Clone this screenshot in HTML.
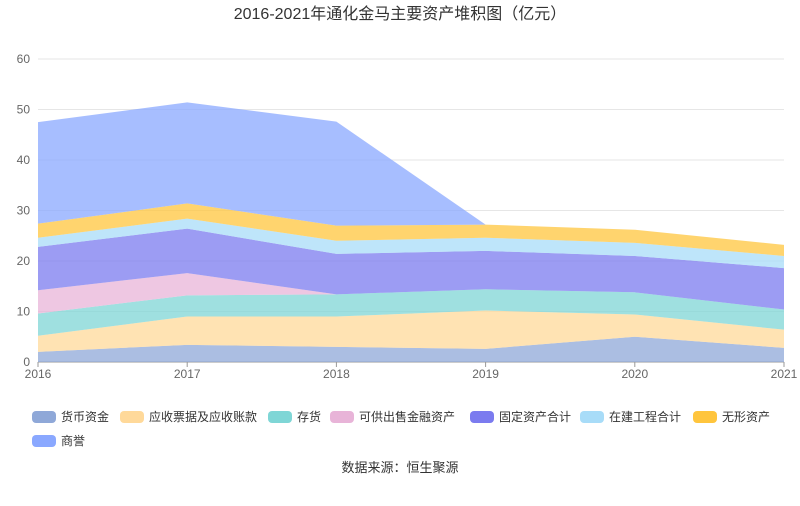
<!DOCTYPE html>
<html><head><meta charset="utf-8"><style>
body{margin:0;background:#fff;font-family:"Liberation Sans","Noto Sans CJK SC",sans-serif;}
</style></head><body>
<svg id="s" width="800" height="501" xmlns="http://www.w3.org/2000/svg" font-family="Liberation Sans, Noto Sans CJK SC, sans-serif">
<text x="400" y="19" text-anchor="middle" font-size="16" fill="#333">2016-2021年通化金马主要资产堆积图（亿元）</text>
<text x="400" y="472" text-anchor="middle" font-size="13" fill="#333">数据来源：恒生聚源</text>
</svg>
<script>
var s=document.getElementById('s'),NS='http://www.w3.org/2000/svg';
function el(t,a,txt){var e=document.createElementNS(NS,t);for(var k in a)e.setAttribute(k,a[k]);if(txt!=null)e.textContent=txt;s.appendChild(e);return e;}
var X=[38,187.2,336.4,485.6,634.8,784];
function Y(v){return 362-v*5.05;}
for(var g=0;g<=60;g+=10){el('line',{x1:38,x2:784,y1:Y(g),y2:Y(g),stroke:g?'#e6e6e6':'#999','stroke-width':1});
el('text',{x:30,y:Y(g)+4,'text-anchor':'end','font-size':12,fill:'#666'},g);}
var yrs=[2016,2017,2018,2019,2020,2021];
yrs.forEach(function(y,i){el('text',{x:X[i],y:378,'text-anchor':'middle','font-size':12,fill:'#666'},y);
el('line',{x1:X[i],x2:X[i],y1:362,y2:367,stroke:'#999'});});
var cum=[
[0,0,0,0,0,0],
[2,3.4,3,2.6,5,2.8],
[5.2,9,9,10.2,9.4,6.4],
[9.6,13.2,13.4,14.4,13.8,10.4],
[14.2,17.6,13.4,14.4,13.8,10.4],
[22.8,26.4,21.4,22,21,18.6],
[24.6,28.4,24,24.6,23.6,21],
[27.4,31.4,27,27.2,26.2,23.2],
[47.5,51.4,47.6,27.2,26.2,23.2]];
var cols=['#8fa8d8','#ffd99a','#7fd6d6','#e8b4d8','#7b7bef','#a8dcf8','#ffc53d','#8aa8ff'];
var names=['货币资金','应收票据及应收账款','存货','可供出售金融资产','固定资产合计','在建工程合计','无形资产','商誉'];
for(var k=0;k<8;k++){var p=[];for(var i=0;i<6;i++)p.push(X[i]+','+Y(cum[k+1][i]));for(var i=5;i>=0;i--)p.push(X[i]+','+Y(cum[k][i]));
el('polygon',{points:p.join(' '),fill:cols[k],'fill-opacity':0.75});}
var lx=[32,120,268,330,470,580,693],ly=[417,417,417,417,417,417,417];
names.forEach(function(n,i){var x=i<7?lx[i]:32,y=i<7?417:441;
el('rect',{x:x,y:y-6,width:24,height:12,rx:4,fill:cols[i]});
el('text',{x:x+29,y:y+4,'font-size':12,fill:'#333'},n);});
</script>
</body></html>
